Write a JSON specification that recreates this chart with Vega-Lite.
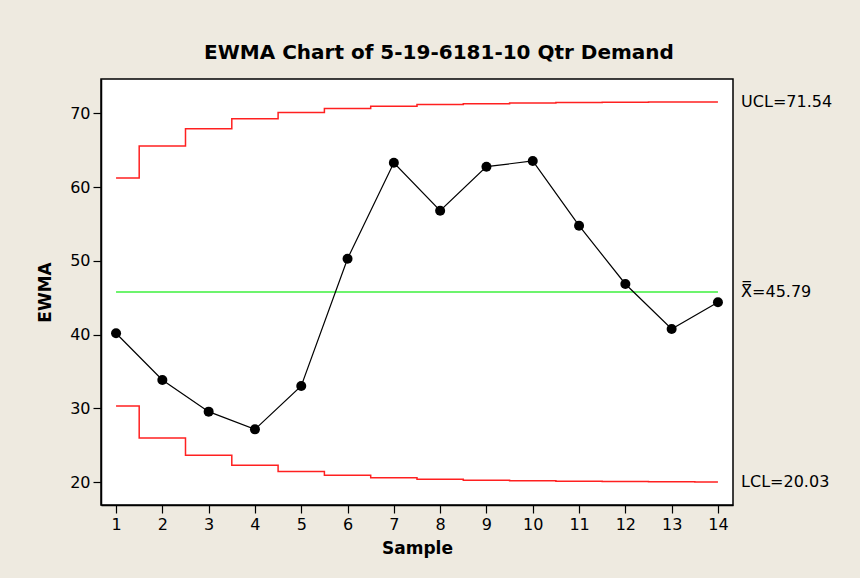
{
  "$schema": "https://vega.github.io/schema/vega-lite/v6.json",
  "width": 632,
  "height": 426,
  "autosize": "none",
  "padding": {"left": 101, "top": 79, "right": 127, "bottom": 73},
  "background": "#EEEAE0",
  "view": {"fill": "white", "stroke": "black", "strokeWidth": 1.5},
  "title": {
    "text": "EWMA Chart of 5-19-6181-10 Qtr Demand",
    "font": "DejaVu Sans",
    "fontSize": 20,
    "fontWeight": "bold",
    "color": "black",
    "anchor": "middle",
    "dx": 22,
    "offset": 16
  },
  "config": {
    "font": "DejaVu Sans",
    "axis": {
      "domainColor": "black",
      "domainWidth": 1.5,
      "tickColor": "black",
      "tickWidth": 1.2,
      "tickSize": 8,
      "labelColor": "black",
      "labelFont": "DejaVu Sans",
      "labelFontSize": 16,
      "titleFont": "DejaVu Sans",
      "titleFontSize": 17,
      "titleFontWeight": "bold",
      "titleColor": "black",
      "grid": false
    }
  },
  "datasets": {
    "ewma": [
      {"Sample": 1, "EWMA": 40.2, "UCL": 61.24, "LCL": 30.34},
      {"Sample": 2, "EWMA": 33.87, "UCL": 65.58, "LCL": 26.0},
      {"Sample": 3, "EWMA": 29.57, "UCL": 67.91, "LCL": 23.67},
      {"Sample": 4, "EWMA": 27.17, "UCL": 69.28, "LCL": 22.3},
      {"Sample": 5, "EWMA": 33.05, "UCL": 70.12, "LCL": 21.46},
      {"Sample": 6, "EWMA": 50.3, "UCL": 70.64, "LCL": 20.94},
      {"Sample": 7, "EWMA": 63.3, "UCL": 70.97, "LCL": 20.61},
      {"Sample": 8, "EWMA": 56.8, "UCL": 71.18, "LCL": 20.4},
      {"Sample": 9, "EWMA": 62.77, "UCL": 71.31, "LCL": 20.27},
      {"Sample": 10, "EWMA": 63.54, "UCL": 71.39, "LCL": 20.19},
      {"Sample": 11, "EWMA": 54.77, "UCL": 71.45, "LCL": 20.13},
      {"Sample": 12, "EWMA": 46.87, "UCL": 71.49, "LCL": 20.09},
      {"Sample": 13, "EWMA": 40.77, "UCL": 71.52, "LCL": 20.06},
      {"Sample": 14, "EWMA": 44.39, "UCL": 71.54, "LCL": 20.03}
    ],
    "center": [{"start": 1, "end": 14, "CL": 45.79}],
    "labels": [
      {"label": "UCL=71.54", "value": 71.54},
      {"label": "X\u033F=45.79", "value": 45.79},
      {"label": "LCL=20.03", "value": 20.03}
    ]
  },
  "layer": [
    {
      "data": {"name": "ewma"},
      "mark": {"type": "line", "interpolate": "step", "color": "#FF2020", "strokeWidth": 1.5},
      "encoding": {
        "x": {
          "field": "Sample", "type": "quantitative",
          "scale": {"domain": [0.675, 14.325], "nice": false, "zero": false},
          "axis": {"values": [1,2,3,4,5,6,7,8,9,10,11,12,13,14], "format": "d", "labelPadding": 3, "title": "Sample", "titlePadding": 8, "labelFlush": false}
        },
        "y": {
          "field": "UCL", "type": "quantitative",
          "scale": {"domain": [16.92, 74.65], "nice": false, "zero": false},
          "axis": {"values": [20,30,40,50,60,70], "labelPadding": 3, "title": "EWMA", "titlePadding": 15}
        }
      }
    },
    {
      "data": {"name": "ewma"},
      "mark": {"type": "line", "interpolate": "step", "color": "#FF2020", "strokeWidth": 1.5},
      "encoding": {
        "x": {"field": "Sample", "type": "quantitative"},
        "y": {"field": "LCL", "type": "quantitative"}
      }
    },
    {
      "data": {"name": "center"},
      "mark": {"type": "rule", "color": "#3CF03C", "strokeWidth": 1.5},
      "encoding": {
        "x": {"field": "start", "type": "quantitative"},
        "x2": {"field": "end"},
        "y": {"field": "CL", "type": "quantitative"}
      }
    },
    {
      "data": {"name": "ewma"},
      "mark": {"type": "line", "color": "black", "strokeWidth": 1.2},
      "encoding": {
        "x": {"field": "Sample", "type": "quantitative"},
        "y": {"field": "EWMA", "type": "quantitative"}
      }
    },
    {
      "data": {"name": "ewma"},
      "mark": {"type": "point", "filled": true, "color": "black", "size": 100, "opacity": 1},
      "encoding": {
        "x": {"field": "Sample", "type": "quantitative"},
        "y": {"field": "EWMA", "type": "quantitative"}
      }
    },
    {
      "data": {"name": "labels"},
      "mark": {"type": "text", "align": "left", "baseline": "middle", "fontSize": 16, "color": "black", "font": "DejaVu Sans", "clip": false},
      "encoding": {
        "x": {"datum": 14.5, "type": "quantitative"},
        "y": {"field": "value", "type": "quantitative"},
        "text": {"field": "label"}
      }
    }
  ]
}
